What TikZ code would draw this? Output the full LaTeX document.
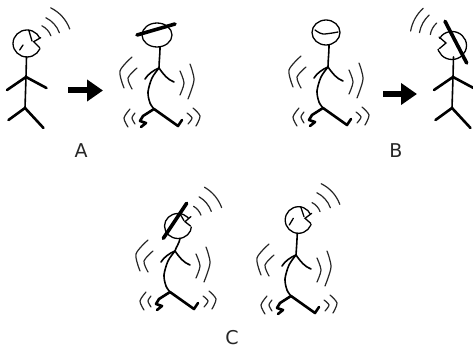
\documentclass[tikz,border=0pt]{standalone}
\usepackage{fontspec}
\setmainfont{DejaVu Sans}
\usetikzlibrary{arrows.meta}
\begin{document}
\begin{tikzpicture}[x=1pt,y=-1pt,
  limb/.style={line width=2.6pt, line cap=round, line join=round},
  trunk/.style={line width=1.6pt, line cap=round},
  headline/.style={line width=1.3pt, line cap=round},
  shake/.style={line width=1.2pt, black!85, line cap=round},
  blind/.style={line width=3.6pt, line cap=round},
  bigarrow/.style={line width=6pt, -{Triangle[length=16pt,width=21pt]}},
  lbl/.style={font=\fontsize{19}{19}\selectfont, text=black!85, inner sep=0pt},
  % dancing body, origin at the hip
  pics/dancer/.style={code={
    \draw[trunk] plot[smooth] coordinates {(5,-41) (-2,-31) (-6,-17) (-4,-6) (0,0)};
    \draw[trunk] (5,-41) .. controls (0,-39) and (-6,-35) .. (-9,-30);
    \draw[trunk] (5,-41) .. controls (9,-35) and (14,-29) .. (20,-27);
    \draw[limb] (-13,18) -- (-8,14) -- (-14,12) -- (-11,7) -- (0,0) -- (24,17) -- (28,11);
    % shaking marks
    \draw[shake] plot[smooth] coordinates {(-22,-52) (-34,-38) (-30,-21)};
    \draw[shake] plot[smooth] coordinates {(-17,-41) (-26,-31) (-22,-20)};
    \draw[shake] plot[smooth] coordinates {(26,-38) (30,-26) (26,-14)};
    \draw[shake] plot[smooth] coordinates {(36,-45) (40,-29) (34,-10)};
    \draw[shake] plot[smooth] coordinates {(-24,0) (-30,9) (-26,18)};
    \draw[shake] plot[smooth] coordinates {(-19,4) (-22,9) (-19,15)};
    \draw[shake] plot[smooth] coordinates {(33,4) (38,9) (34,15)};
    \draw[shake] plot[smooth] coordinates {(39,-1) (46,7) (42,17)};
  }},
  % standing body, origin at the hip
  pics/standing/.style={code={
    \draw[trunk] (1.5,-51) -- (1,-31) -- (0,0);
    \draw[limb] (-18,-18) -- (1,-31) -- (21.5,-20);
    \draw[limb] (-16.5,12) -- (0,0) -- (18.5,20);
  }},
  % sound waves: three radii, start and end angle
  pics/waves/.style n args={5}{code={
    \foreach \r in {#1,#2,#3}
      \draw[shake] (#4:\r) arc[start angle=#4, end angle=#5, radius=\r];
  }}
]
\useasboundingbox (0,0) rectangle (473,350);
\clip (0,0) rectangle (473,350);

% ---------- A ----------
\coordinate (aHip) at (25,108);
\pic at (aHip) {standing};
\draw[headline] (27,43.5) ellipse[x radius=14, y radius=13.5];
\fill[white] (33.7,41.7) -- (44,35.6) -- (43,51) -- cycle;
\draw[headline] (40.7,37.7) -- (33.7,41.7) -- (39.7,47.7);
\draw[headline] (28.7,30) -- (32,41);
\draw[headline] (19.7,50) -- (23,45);
\pic at (34,42) {waves={18}{27}{38}{-20}{-64}};

\coordinate (aFrom) at (68,90.5);
\coordinate (aTo) at (103,90.5);
\draw[bigarrow] (aFrom) -- (aTo);

\coordinate (aDance) at (154,109);
\pic at (aDance) {dancer};
\draw[headline] (157,35) ellipse[x radius=15, y radius=12];
\draw[trunk] (160,47) .. controls (160,55) and (159,62) .. (159,68);
\draw[blind] (137,35) -- (175,24);

\node[lbl] (labA) at (81,151) {A};

% ---------- B ----------
\coordinate (bDance) at (323,108);
\pic at (bDance) {dancer};
\draw[headline] (326,32.5) ellipse[x radius=14, y radius=12.5];
\draw[headline] plot[smooth] coordinates {(315,30) (323,34) (338,32)};
\draw[trunk] (329,45) .. controls (329,53) and (328,61) .. (328,67);

\coordinate (bFrom) at (383,94);
\coordinate (bTo) at (417,94);
\draw[bigarrow] (bFrom) -- (bTo);

\coordinate (bHip) at (452,108);
\pic at (bHip) {standing};
\draw[headline] (452,45.5) ellipse[x radius=14.5, y radius=14];
\fill[white] (446,43) -- (435,36) -- (436,50) -- cycle;
\draw[headline] (439,37) -- (446,43) -- (439.5,48.5);
\draw[blind] (445,21.3) -- (466.7,63);
\pic at (450,38) {waves={20}{31}{40}{-132}{-170}};

\node[lbl] (labB) at (396,151) {B};

% ---------- C ----------
\coordinate (cLeft) at (170,292);
\pic at (cLeft) {dancer};
\draw[headline] (178,226) ellipse[x radius=13.5, y radius=12.5];
\fill[white] (185,221.7) -- (194,214.5) -- (193.5,228) -- cycle;
\draw[headline] (191,216.5) -- (185,221.7) -- (190.5,226);
\draw[headline] (180.7,215) -- (184,220.7);
\draw[headline] (170,228.3) -- (173.3,223.3);
\draw[trunk] (180,238.5) .. controls (179.5,243) and (176,247) .. (175,251);
\draw[blind] (163.3,238.3) -- (186.7,203.3);
\pic at (185,221) {waves={17}{28}{39}{-20}{-60}};

\coordinate (cRight) at (291,296);
\pic at (cRight) {dancer};
\draw[headline] (298.5,220) ellipse[x radius=13.3, y radius=13.3];
\fill[white] (305,218.3) -- (314.5,211.5) -- (313.5,225.5) -- cycle;
\draw[headline] (311.7,213.3) -- (305,218.3) -- (310.7,223.3);
\draw[headline] (300.7,206.7) -- (304,216.7);
\draw[headline] (289.3,225) -- (293.3,218.3);
\draw[trunk] (297.3,233.3) .. controls (297,240) and (296.5,248) .. (296,255);
\pic at (305,217) {waves={16}{27}{37}{-20}{-64}};

\node[lbl] (labC) at (232,338) {C};
\end{tikzpicture}
\end{document}
